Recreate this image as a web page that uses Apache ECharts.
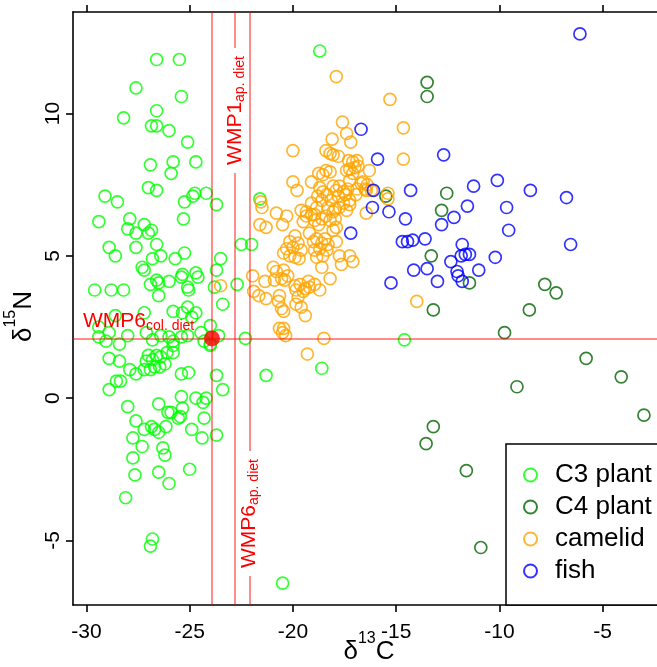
<!DOCTYPE html>
<html>
<head>
<meta charset="utf-8">
<script src="https://cdn.jsdelivr.net/npm/echarts@6/dist/echarts.min.js"></script>
<style>
html, body { margin: 0; padding: 0; background: #fff; }
#chart { width: 657px; height: 667px; }
</style>
</head>
<body>
<div id="chart"></div>
<script>
// d13C / d15N values
const c3Plant = [
    [-26.6, 11.9], [-25.5, 11.9], [-27.6, 10.9], [-25.4, 10.6], [-28.2, 9.85], [-26.6, 10.1], [-26.85, 9.57], [-26.6, 9.57], [-26.0, 9.4], [-25.1, 9.0],
    [-26.9, 8.2], [-25.8, 8.3], [-25.9, 7.9], [-24.7, 8.3], [-27.0, 7.4], [-26.6, 7.3], [-29.1, 7.1], [-28.5, 6.9], [-24.75, 7.2], [-24.85, 7.1],
    [-25.25, 6.9], [-24.2, 7.2], [-23.7, 6.8], [-18.7, 12.2], [-21.6, 7.0], [-29.4, 6.2], [-27.9, 6.3], [-28.0, 5.95], [-27.6, 5.8], [-27.2, 6.1],
    [-26.85, 5.9], [-27.0, 5.8], [-25.3, 6.3], [-28.9, 5.3], [-28.6, 5.0], [-27.6, 5.3], [-26.6, 5.4], [-26.4, 5.0], [-26.8, 4.9], [-25.7, 4.9],
    [-25.25, 5.1], [-22.5, 5.4], [-22.0, 5.4], [-27.3, 4.6], [-27.2, 4.5], [-25.35, 4.35], [-25.4, 4.25], [-24.7, 4.4], [-24.6, 4.25], [-23.7, 4.5],
    [-23.5, 4.9], [-26.9, 4.0], [-26.6, 4.15], [-26.5, 4.05], [-26.0, 4.1], [-25.1, 3.9], [-25.05, 3.8], [-23.8, 3.9], [-22.7, 4.0], [-29.6, 3.8],
    [-28.8, 3.8], [-28.2, 3.8], [-26.5, 3.6], [-23.4, 3.3], [-25.8, 3.05], [-25.35, 3.0], [-25.1, 3.2], [-24.7, 3.0], [-24.9, 2.85], [-27.2, 3.0],
    [-28.6, 2.9], [-24.0, 2.55], [-29.4, 2.5], [-28.9, 2.3], [-29.05, 2.0], [-28.4, 1.9], [-28.0, 2.2], [-27.1, 2.3], [-26.8, 2.05], [-26.4, 2.2],
    [-26.0, 2.15], [-25.8, 2.0], [-25.4, 2.15], [-25.1, 2.2], [-24.3, 2.0], [-24.0, 1.85], [-22.3, 2.1], [-29.4, 2.15], [-28.9, 1.4], [-28.4, 1.3],
    [-27.9, 1.0], [-27.6, 0.85], [-27.2, 1.0], [-27.1, 1.3], [-27.0, 1.5], [-26.8, 1.35], [-26.6, 1.5], [-26.4, 1.45], [-26.2, 1.2], [-26.1, 1.6],
    [-25.8, 1.6], [-25.8, 1.85], [-26.9, 1.0], [-26.7, 1.1], [-26.45, 1.1], [-25.4, 0.85], [-25.05, 0.9], [-23.7, 0.8], [-23.4, 0.3], [-21.3, 0.8],
    [-28.9, 0.3], [-28.55, 0.6], [-28.35, 0.6], [-28.0, -0.3], [-27.6, -0.8], [-27.2, -1.1], [-26.85, -1.0], [-26.7, -1.1], [-26.5, -1.2], [-26.15, -1.0],
    [-26.5, -0.2], [-26.05, -0.5], [-25.9, -0.5], [-25.55, -0.7], [-25.45, -0.65], [-25.4, 0.05], [-25.35, -0.35], [-24.9, -1.1], [-24.7, 0.0], [-24.35, -0.15],
    [-24.2, 0.0], [-24.3, -0.7], [-24.4, -1.4], [-23.7, -1.3], [-27.75, -1.4], [-27.3, -1.7], [-27.75, -2.1], [-26.3, -1.75], [-26.2, -2.0], [-27.65, -2.7],
    [-26.5, -2.6], [-26.0, -3.0], [-25.0, -2.5], [-28.1, -3.5], [-26.8, -4.95], [-26.9, -5.2], [-20.5, -6.5], [-23.6, 2.2], [-24.0, 1.9], [-18.6, 1.05],
    [-14.6, 2.05], [-24.45, 2.3]
];

const c4Plant = [
    [-13.5, 11.1], [-13.5, 10.6], [-15.5, 7.1], [-12.55, 7.2], [-12.8, 6.6], [-13.3, 5.0], [-11.45, 4.05], [-7.8, 4.0], [-7.25, 3.7], [-13.2, 3.1],
    [-8.55, 3.1], [-9.75, 2.3], [-5.8, 1.4], [-4.1, 0.75], [-9.15, 0.4], [-3.0, -0.6], [-13.2, -1.0], [-13.55, -1.6], [-11.6, -2.55], [-10.9, -5.25]
];

const camelid = [
    [-17.9, 11.3], [-15.3, 10.5], [-17.6, 9.7], [-17.4, 9.3], [-17.2, 9.0], [-18.1, 9.1], [-14.65, 9.5], [-14.65, 8.4], [-20.0, 8.7], [-18.4, 8.7],
    [-18.2, 8.6], [-18.05, 8.55], [-17.8, 8.5], [-17.3, 8.35], [-17.1, 8.3], [-16.9, 8.35], [-17.0, 8.1], [-17.25, 8.05], [-17.4, 8.0], [-16.3, 8.0],
    [-16.85, 8.15], [-17.1, 7.9], [-17.25, 7.65], [-18.75, 7.9], [-18.4, 8.0], [-18.2, 7.95], [-18.55, 7.85], [-20.0, 7.6], [-19.8, 7.3], [-19.1, 7.6],
    [-18.7, 7.4], [-18.55, 7.25], [-18.8, 7.1], [-18.6, 6.95], [-18.35, 7.15], [-18.05, 7.45], [-17.9, 7.3], [-17.75, 7.45], [-17.55, 7.25], [-17.35, 7.35],
    [-17.8, 7.1], [-17.45, 7.15], [-17.25, 6.95], [-16.95, 7.15], [-16.9, 7.35], [-16.7, 7.55], [-16.5, 7.35], [-16.4, 7.5], [-16.45, 7.3], [-16.2, 7.3],
    [-16.6, 7.6], [-15.4, 7.2], [-15.4, 7.0], [-19.1, 6.85], [-18.85, 6.7], [-19.35, 6.55], [-18.95, 6.45], [-18.15, 6.95], [-18.3, 6.7], [-17.95, 6.65],
    [-17.75, 6.7], [-17.25, 6.8], [-16.45, 6.5], [-21.55, 6.9], [-21.5, 6.7], [-20.8, 6.5], [-20.3, 6.4], [-20.5, 6.1], [-21.6, 6.1], [-21.3, 6.0],
    [-19.6, 6.6], [-19.35, 6.4], [-19.5, 6.2], [-19.1, 6.45], [-18.95, 6.25], [-18.75, 6.1], [-18.6, 6.3], [-18.4, 6.4], [-18.2, 6.25], [-17.95, 6.3],
    [-17.9, 6.0], [-18.05, 6.55], [-17.55, 6.85], [-17.4, 6.6], [-18.05, 5.9], [-17.9, 5.5], [-17.75, 5.0], [-17.25, 5.0], [-17.65, 4.7], [-17.1, 4.8],
    [-19.9, 5.7], [-20.15, 5.5], [-20.3, 5.25], [-20.0, 5.3], [-19.75, 5.45], [-19.6, 5.2], [-20.45, 5.1], [-20.15, 5.0], [-19.9, 4.95], [-19.7, 4.9],
    [-19.2, 5.8], [-19.0, 5.5], [-18.85, 5.6], [-18.6, 5.45], [-18.45, 5.6], [-18.3, 5.4], [-18.7, 5.25], [-18.95, 5.2], [-18.85, 4.95], [-18.55, 5.0],
    [-18.35, 5.2], [-18.6, 4.6], [-18.2, 4.2], [-18.7, 3.8], [-18.95, 4.0], [-19.25, 4.1], [-19.4, 3.85], [-19.65, 4.0], [-19.85, 3.8], [-19.9, 3.95],
    [-19.5, 3.75], [-19.75, 3.55], [-19.6, 3.2], [-19.4, 2.9], [-19.2, 3.9], [-20.95, 4.6], [-20.8, 4.45], [-20.45, 4.5], [-20.55, 4.2], [-20.9, 4.15],
    [-20.4, 4.15], [-20.25, 4.3], [-21.95, 4.3], [-21.35, 4.1], [-21.9, 3.75], [-21.65, 3.6], [-21.3, 3.5], [-20.65, 3.6], [-20.7, 3.4], [-20.55, 3.15],
    [-20.45, 3.05], [-20.65, 2.45], [-20.45, 2.45], [-20.5, 2.3], [-20.35, 2.2], [-18.5, 2.1], [-19.3, 1.55], [-14.0, 3.4], [-23.5, 3.95], [-19.85, 3.3]
];

const fish = [
    [-6.1, 12.8], [-16.7, 9.45], [-15.9, 8.4], [-12.7, 8.55], [-16.1, 7.3], [-14.3, 7.3], [-10.1, 7.65], [-8.5, 7.3], [-6.75, 7.05], [-11.25, 7.45],
    [-11.55, 6.75], [-9.65, 6.7], [-16.15, 6.7], [-15.35, 6.55], [-14.55, 6.3], [-12.8, 6.1], [-12.2, 6.35], [-9.55, 5.9], [-17.2, 5.8], [-14.7, 5.5],
    [-14.45, 5.5], [-14.2, 5.55], [-13.6, 5.6], [-6.55, 5.4], [-11.8, 5.4], [-11.85, 5.0], [-11.65, 5.05], [-11.45, 5.05], [-10.2, 4.95], [-12.35, 4.8],
    [-12.05, 4.45], [-12.0, 4.3], [-11.0, 4.5], [-14.15, 4.5], [-13.5, 4.55], [-13.0, 4.1], [-11.8, 4.1], [-15.25, 4.05]
];

// mixing-model diet estimates (reference lines)
const wmp6ColDiet = [-23.92, 2.1];
const wmp1ApDietX = -22.81;
const wmp6ApDietX = -22.10;

const xTicks = [-30, -25, -20, -15, -10, -5];
const yTicks = [-5, 0, 5, 10];

const FONT = "'Liberation Sans', Arial, Helvetica, sans-serif";
const LINE_RED = 'rgba(255, 0, 0, 0.45)';

function pointSeries(name, data, color) {
    return {
        name: name,
        type: 'scatter',
        data: data,
        symbol: 'circle',
        symbolSize: 12,
        itemStyle: {
            color: 'rgba(0,0,0,0)',
            borderColor: color,
            borderWidth: 1.7
        },
        emphasis: { disabled: true }
    };
}

const labelRich = {
    m: { fontSize: 21, color: '#f00', fontFamily: FONT },
    s: { fontSize: 14, color: '#f00', fontFamily: FONT, padding: [10, 0, 0, 0] }
};

// axis titles: main letters plus a superscript mass number
const titleRich = {
    m: { fontSize: 26, color: '#000', fontFamily: FONT, padding: [8, 0, 0, 0] },
    sup: { fontSize: 16, color: '#000', fontFamily: FONT, verticalAlign: 'top' }
};

const axisCommon = {
    type: 'value',
    nameMoveOverlap: false,
    axisLine: { show: true, onZero: false, lineStyle: { color: '#000', width: 1.6 } },
    axisTick: { show: true, inside: false, length: 7, lineStyle: { color: '#000', width: 1.6 } },
    splitLine: { show: false }
};

const chart = echarts.init(document.getElementById('chart'));

chart.setOption({
    animation: false,
    backgroundColor: '#fff',
    textStyle: { fontFamily: FONT },
    grid: { left: 73, top: 12, right: -8, bottom: 62, containLabel: false, outerBoundsMode: 'none' },
    legend: {
        data: ['C3 plant', 'C4 plant', 'camelid', 'fish'],
        orient: 'vertical',
        left: 506,
        top: 444,
        padding: [18, 40, 21, 17],
        itemGap: 6,
        itemWidth: 13,
        itemHeight: 13,
        icon: 'circle',
        borderColor: '#000',
        borderWidth: 1.5,
        backgroundColor: '#fff',
        textStyle: { fontSize: 26, color: '#000', fontFamily: FONT, padding: [0, 0, 0, 13] }
    },
    xAxis: [
        Object.assign({}, axisCommon, {
            position: 'bottom',
            min: -30.65,
            max: -1.98,
            name: '{m|δ}{sup|13}{m|C}',
            nameLocation: 'middle',
            nameGap: 26,
            nameTextStyle: { rich: titleRich },
            axisTick: Object.assign({}, axisCommon.axisTick, { customValues: xTicks }),
            axisLabel: { customValues: xTicks, fontSize: 21, color: '#000', margin: 17, fontFamily: FONT }
        }),
        Object.assign({}, axisCommon, {
            position: 'top',
            min: -30.65,
            max: -1.98,
            axisTick: Object.assign({}, axisCommon.axisTick, { customValues: xTicks }),
            axisLabel: { show: false }
        })
    ],
    yAxis: Object.assign({}, axisCommon, {
        position: 'left',
        min: -7.27,
        max: 13.57,
        name: '{m|δ}{sup|15}{m|N}',
        nameLocation: 'middle',
        nameRotate: 90,
        nameGap: 36,
        nameTextStyle: { rich: titleRich, padding: [0, 16, 0, 0] },
        axisTick: Object.assign({}, axisCommon.axisTick, { customValues: yTicks }),
        axisLabel: { customValues: yTicks, rotate: 90, fontSize: 21, color: '#000', margin: 9, fontFamily: FONT }
    }),
    series: [
        pointSeries('C3 plant', c3Plant, '#00ff00'),
        pointSeries('C4 plant', c4Plant, '#006400'),
        pointSeries('camelid', camelid, '#ffa500'),
        pointSeries('fish', fish, '#0000ff'),
        {
            name: 'WMP6 col. diet',
            type: 'scatter',
            data: [wmp6ColDiet],
            symbol: 'circle',
            symbolSize: 16,
            itemStyle: { color: '#ff0000' },
            emphasis: { disabled: true },
            z: 5,
            markLine: {
                silent: true,
                symbol: ['none', 'none'],
                lineStyle: { color: LINE_RED, width: 2, type: 'solid' },
                label: { show: false },
                data: [
                    { xAxis: wmp6ColDiet[0] },
                    {
                        xAxis: wmp1ApDietX,
                        label: {
                            show: true,
                            position: 'insideEnd',
                            distance: [36, 0],
                            formatter: '{m|WMP1}{s|ap. diet}',
                            backgroundColor: '#fff',
                            padding: [0, 8],
                            rich: labelRich
                        }
                    },
                    {
                        xAxis: wmp6ApDietX,
                        label: {
                            show: true,
                            position: 'insideStart',
                            distance: [29, 0],
                            formatter: '{m|WMP6}{s|ap. diet}',
                            backgroundColor: '#fff',
                            padding: [0, 8],
                            rich: labelRich
                        }
                    },
                    {
                        yAxis: wmp6ColDiet[1],
                        label: {
                            show: true,
                            position: 'insideStartTop',
                            distance: [10, 5],
                            formatter: '{m|WMP6}{s|col. diet}',
                            rich: labelRich
                        }
                    }
                ]
            }
        }
    ]
});
</script>
</body>
</html>
